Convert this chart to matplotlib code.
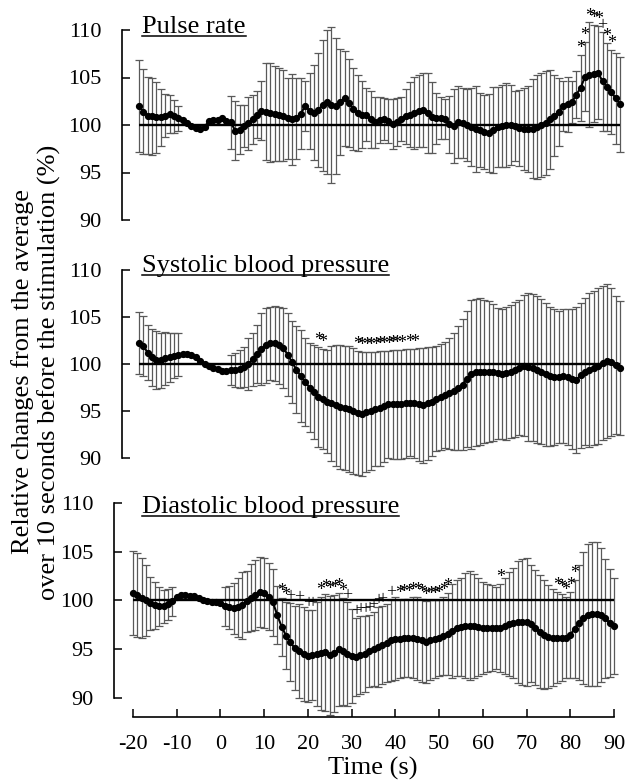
import numpy as np
import matplotlib
matplotlib.use("Agg")
import matplotlib.pyplot as plt
from matplotlib.lines import Line2D

plt.rcParams['font.family'] = ['Liberation Serif', 'DejaVu Serif']
plt.rcParams['axes.unicode_minus'] = False

nan = np.nan
time = np.arange(-20, 91)

pulse_mean = [102.0, 101.4, 101.0, 100.9, 100.8, 100.8, 101.0, 101.2, 100.9, 100.7,
              100.5, 100.2, 99.9, 99.7, 99.6, 99.8, 100.4, 100.5, 100.5, 100.7,
              100.4, 100.3, 99.4, 99.5, 99.9, 100.2, 100.6, 101.1, 101.5, 101.4,
              101.3, 101.2, 101.1, 101.0, 100.7, 100.6, 100.7, 101.2, 102.0, 101.5,
              101.3, 101.6, 102.1, 102.4, 102.1, 102.0, 102.4, 102.8, 102.3, 101.7,
              101.3, 101.1, 101.1, 100.6, 100.3, 100.5, 100.6, 100.4, 100.1, 100.3,
              100.6, 100.9, 101.1, 101.3, 101.5, 101.6, 101.3, 100.8, 100.7, 100.7,
              100.6, 100.1, 99.9, 100.3, 100.2, 100.0, 99.8, 99.6, 99.5, 99.3,
              99.2, 99.5, 99.8, 99.9, 100.0, 100.0, 99.9, 99.7, 99.6, 99.6,
              99.6, 99.8, 100.0, 100.2, 100.6, 101.0, 101.4, 102.0, 102.2, 102.4,
              103.2, 103.9, 105.1, 105.3, 105.4, 105.5, 104.6, 104.0, 103.5, 102.8, 102.2]
pulse_sd = [4.8, 4.5, 4.1, 4.1, 3.7, 3.0, 2.3, 2.0, 1.7, 1.3,
            nan, nan, nan, nan, nan, nan, nan, nan, nan, nan, nan,
            2.8, 3.1, 2.6, 2.2, 2.8, 2.6, 2.5, 3.1, 5.1, 5.2,
            5.0, 4.9, 4.8, 4.3, 4.8, 4.3, 3.7, 2.6, 4.0, 5.0,
            6.0, 6.9, 7.6, 8.2, 7.2, 5.6, 5.0, 4.6, 4.3, 4.0,
            3.5, 2.8, 3.0, 2.7, 2.4, 2.2, 2.3, 2.6, 2.5, 2.3,
            2.9, 3.4, 3.8, 3.8, 3.9, 4.2, 3.7, 2.7, 2.2, 2.1,
            3.0, 3.9, 3.8, 3.7, 3.8, 4.1, 4.5, 3.9, 3.9, 4.1,
            4.5, 4.2, 4.3, 4.4, 4.2, 3.7, 4.0, 4.3, 4.5, 5.2,
            5.5, 5.5, 5.5, 5.2, 4.3, 3.6, 2.6, 2.9, 2.2, 2.5,
            3.5, 3.6, 5.5, 5.1, 4.9, 5.2, 4.6, 4.4, 4.8, 5.0]

systolic_mean = [102.2, 101.9, 101.2, 100.7, 100.4, 100.4, 100.6, 100.7, 100.9, 101.0,
                 101.1, 101.1, 101.0, 100.7, 100.3, 100.0, 99.8, 99.6, 99.5, 99.3,
                 99.3, 99.4, 99.4, 99.5, 99.7, 100.0, 100.5, 101.1, 101.6, 102.0,
                 102.2, 102.2, 102.0, 101.7, 101.0, 100.2, 99.4, 98.7, 98.1, 97.5,
                 97.0, 96.5, 96.3, 96.0, 95.8, 95.6, 95.4, 95.3, 95.2, 95.0,
                 94.8, 94.7, 94.9, 95.0, 95.2, 95.3, 95.5, 95.7, 95.7, 95.7,
                 95.7, 95.8, 95.9, 95.8, 95.7, 95.6, 95.8, 96.0, 96.3, 96.5,
                 96.7, 96.9, 97.1, 97.4, 97.8, 98.4, 98.9, 99.1, 99.2, 99.2,
                 99.2, 99.1, 99.0, 98.9, 99.0, 99.2, 99.4, 99.6, 99.8, 99.7,
                 99.6, 99.4, 99.2, 98.9, 98.7, 98.6, 98.6, 98.7, 98.6, 98.4,
                 98.3, 98.8, 99.2, 99.4, 99.6, 99.8, 100.1, 100.3, 100.2, 99.9, 99.6]
systolic_sd = [3.3, 3.2, 2.9, 3.0, 3.1, 2.9, 2.8, 2.6, 2.4, 2.3,
               nan, nan, nan, nan, nan, nan, nan, nan, nan, nan, nan,
               1.6, 1.8, 2.0, 2.1, 2.8, 2.8, 3.1, 3.8, 4.0, 3.9,
               4.0, 4.1, 4.3, 4.4, 4.4, 4.6, 4.9, 4.7, 4.7, 5.0,
               5.3, 5.3, 5.5, 6.1, 6.4, 6.6, 6.6, 6.7, 6.7, 6.6,
               6.6, 6.4, 6.3, 6.1, 6.1, 5.9, 5.7, 5.8, 5.8, 5.8,
               5.8, 5.7, 5.8, 6.0, 6.1, 6.0, 5.8, 5.6, 5.6, 5.6,
               5.9, 6.2, 6.6, 7.0, 7.2, 7.9, 7.8, 7.8, 7.6, 7.5,
               7.3, 7.0, 6.9, 7.1, 7.1, 7.2, 7.2, 7.5, 7.9, 7.8,
               7.8, 7.7, 7.6, 7.4, 7.2, 7.0, 7.1, 7.2, 7.4, 7.8,
               7.7, 7.8, 8.2, 8.2, 8.3, 8.2, 8.2, 7.9, 7.3, 7.1]

diastolic_mean = [100.8, 100.6, 100.3, 100.0, 99.7, 99.5, 99.4, 99.4, 99.6, 99.9,
                  100.4, 100.6, 100.6, 100.5, 100.5, 100.3, 100.0, 99.9, 99.8, 99.8,
                  99.7, 99.4, 99.3, 99.2, 99.3, 99.5, 99.9, 100.3, 100.6, 100.9,
                  100.8, 100.4, 99.8, 98.5, 97.3, 96.4, 95.7, 95.1, 94.8, 94.5,
                  94.3, 94.4, 94.5, 94.6, 94.7, 94.4, 94.6, 95.0, 94.8, 94.5,
                  94.3, 94.2, 94.4, 94.5, 94.8, 95.0, 95.2, 95.4, 95.6, 95.9,
                  96.1, 96.1, 96.2, 96.2, 96.2, 96.1, 95.9, 95.7, 95.9, 96.0,
                  96.2, 96.4, 96.6, 96.9, 97.2, 97.3, 97.4, 97.4, 97.4, 97.3,
                  97.2, 97.2, 97.2, 97.2, 97.2, 97.4, 97.6, 97.7, 97.8, 97.8,
                  97.8, 97.6, 97.2, 96.8, 96.5, 96.3, 96.2, 96.2, 96.2, 96.2,
                  96.5, 97.1, 97.7, 98.2, 98.5, 98.6, 98.6, 98.5, 98.2, 97.7, 97.4]
diastolic_sd = [4.3, 4.3, 4.1, 3.6, 2.7, 2.4, 2.0, 1.7, 1.6, 1.5,
                nan, nan, nan, nan, nan, nan, nan, nan, nan, nan, nan,
                2.0, 2.2, 2.6, 3.0, 3.4, 3.1, 3.4, 3.6, 3.6, 3.6,
                3.4, 3.4, 3.0, 3.0, 3.4, 4.0, 4.3, 4.8, 4.8, 4.7,
                4.6, 5.3, 5.8, 6.0, 6.1, 6.0, 5.8, 5.5, 5.3, 4.8,
                4.0, 4.0, 3.9, 3.7, 3.8, 4.1, 4.0, 4.0, 4.2, 4.3,
                4.0, 4.0, 4.0, 4.2, 4.3, 4.3, 4.2, 4.1, 4.0, 3.9,
                4.0, 4.2, 4.8, 4.9, 5.0, 5.4, 5.6, 5.3, 5.0, 4.7,
                4.5, 4.4, 4.2, 4.5, 4.9, 5.3, 5.6, 6.3, 6.5, 6.6,
                6.0, 5.9, 5.8, 5.6, 5.3, 5.0, 4.7, 4.5, 4.2, 4.4,
                5.0, 5.9, 6.8, 7.3, 7.4, 7.4, 6.9, 6.1, 5.5, 4.9]

# significance marks (time, symbol)
pulse_sig_t = [81, 82, 83, 84, 85, 86, 87, 88]
pulse_sig_s = ['*', '*', '*', '*', '*', '+', '*', '*']
systolic_sig_t = [21, 22, 30, 31, 32, 33, 34, 35, 36, 37, 38, 39, 40, 42, 43]
systolic_sig_s = ['*'] * len(systolic_sig_t)
diastolic_sig_t = [14, 15, 16, 18, 20, 21, 23, 24, 25, 26, 27, 28, 29, 31, 32, 33, 34,
                   35, 36, 37, 39, 41, 42, 43, 44, 45, 46, 47, 48, 49, 50, 51, 52,
                   64, 77, 78, 79, 80, 81]
diastolic_sig_s = ['*', '*', '+', '+', '+', '+', '*', '*', '*', '*', '*', '*', '+', '+', '+', '+', '+',
                   '+', '+', '+', '+', '*', '*', '*', '*', '*', '*', '*', '*', '*', '*', '*', '*',
                   '*', '*', '*', '*', '*', '*']

titles = ["Pulse rate", "Systolic blood pressure", "Diastolic blood pressure"]

W, H = 628, 784
fig = plt.figure(figsize=(W / 100, H / 100), dpi=100)


def add_axes(left, right, top, bottom):
    return fig.add_axes([left / W, 1 - bottom / H, (right - left) / W, (bottom - top) / H])


def panel(ax, mean, sd, sig_t, sig_s, spine_off, show_x):
    mean = np.array(mean)
    sd = np.array(sd)
    ok = ~np.isnan(sd)
    eb = ax.errorbar(time[ok], mean[ok], yerr=sd[ok], fmt='none', ecolor='0.35',
                     elinewidth=0.9, capsize=2.7, capthick=0.9, zorder=1)
    for c in eb[1]:
        c.set_color('black')
        c.set_clip_on(False)
    for c in eb[2]:
        c.set_clip_on(False)
    ax.axhline(100, color='black', lw=1.7, zorder=2)
    ax.plot(time, mean, '-o', color='black', lw=1.5, ms=4.2, zorder=3, clip_on=False)
    for tt, s in zip(sig_t, sig_s):
        i = tt + 20
        ax.text(tt, mean[i] + sd[i] + 0.2, s, ha='center', va='baseline', fontsize=13)

    ax.set_xlim(-20, 90)
    ax.set_ylim(90, 110)
    for s in ['top', 'right']:
        ax.spines[s].set_visible(False)
    ax.spines['left'].set_position(('outward', spine_off * 0.72))
    ax.spines['left'].set_bounds(90, 110)
    ax.spines['left'].set_linewidth(1.2)
    ax.set_yticks([90, 95, 100, 105, 110])
    ax.tick_params(axis='y', direction='in', length=6, width=1.1, labelsize=16, pad=15)
    if show_x:
        ax.spines['bottom'].set_position(('outward', 19 * 0.72))
        ax.spines['bottom'].set_bounds(-20, 90)
        ax.spines['bottom'].set_linewidth(1.2)
        ax.set_xticks(np.arange(-20, 91, 10))
        ax.tick_params(axis='x', direction='in', length=6, width=1.1, labelsize=16, pad=13)
    else:
        ax.spines['bottom'].set_visible(False)
        ax.set_xticks([])


ax1 = add_axes(139, 620, 30, 220)
ax2 = add_axes(139, 620, 270, 458)
ax3 = add_axes(133, 614, 503, 698)
panel(ax1, pulse_mean, pulse_sd, pulse_sig_t, pulse_sig_s, 17, False)
panel(ax2, systolic_mean, systolic_sd, systolic_sig_t, systolic_sig_s, 17, False)
panel(ax3, diastolic_mean, diastolic_sd, diastolic_sig_t, diastolic_sig_s, 19, True)

title_pos = [(142, 33), (142, 272), (142, 513)]
title_txt = []
for (x, y), name in zip(title_pos, titles):
    title_txt.append(fig.text(x / W, 1 - y / H, name, fontsize=19, va='baseline', ha='left'))

fig.text(373 / W, 1 - 768 / H, "Time (s)", ha='center', va='center', fontsize=19)
fig.text(36 / W, 1 - 372 / H,
         "Relative changes from the average\nover 10 seconds before the stimulation (%)",
         rotation=90, ha='center', va='center', fontsize=19, multialignment='center',
         linespacing=1.25)

# underline the panel titles
fig.canvas.draw()
renderer = fig.canvas.get_renderer()
for (x, y), txt in zip(title_pos, title_txt):
    bb = txt.get_window_extent(renderer)
    uy = 1 - (y + 3) / H
    fig.add_artist(Line2D([bb.x0 / W, bb.x1 / W], [uy, uy], color='black', lw=1.1,
                          transform=fig.transFigure))

fig.savefig("out.png", dpi=100)
